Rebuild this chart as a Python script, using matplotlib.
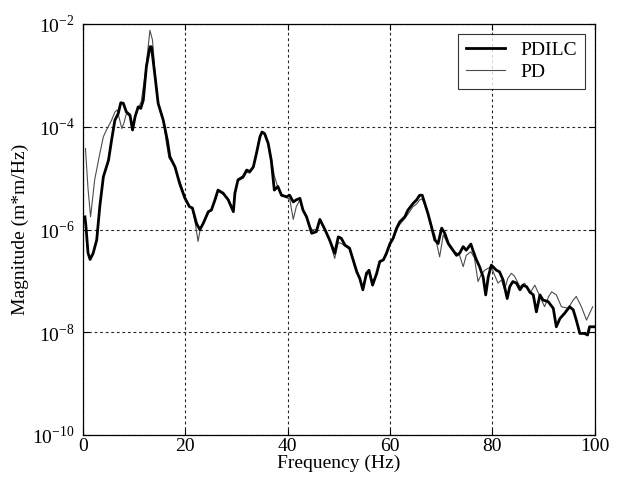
import numpy as np
import matplotlib

matplotlib.use("Agg")
import matplotlib.pyplot as plt
from matplotlib.ticker import FixedLocator

plt.rcParams["font.family"] = ["Liberation Serif", "DejaVu Serif"]
plt.rcParams["mathtext.fontset"] = "custom"
plt.rcParams["mathtext.rm"] = "Liberation Serif"

# ── data: frequency (Hz) and log10 of magnitude (m*m/Hz) ──
pdilc_freq = [0.4, 0.6, 1.0, 1.4, 2.0, 2.7, 3.3, 4.0, 5.0, 5.6, 6.25, 6.9, 7.4, 7.9, 8.5, 9.2,
              9.7, 10.2, 10.8, 11.3, 11.8, 12.4, 13.1, 13.4, 14.1, 14.7, 15.7, 16.5, 17.0, 18.0,
              18.9, 19.9, 20.8, 21.4, 22.2, 22.85, 23.5, 24.5, 25.1, 25.8, 26.4, 27.4, 28.4,
              29.4, 29.7, 30.3, 31.3, 32.0, 32.6, 33.3, 33.9, 34.6, 35.0, 35.5, 36.2, 36.8,
              37.2, 37.4, 38.1, 38.8, 39.8, 40.4, 41.1, 41.7, 42.4, 43.0, 43.7, 44.7, 45.6,
              46.3, 47.3, 48.2, 49.2, 49.9, 50.5, 51.2, 52.1, 52.8, 53.5, 54.1, 54.7, 55.4,
              55.9, 56.6, 57.4, 58.0, 58.7, 59.3, 60.0, 60.6, 61.3, 61.9, 62.9, 63.5, 64.5,
              65.2, 65.8, 66.3, 66.8, 67.4, 68.1, 68.75, 69.4, 70.1, 70.7, 71.4, 72.3, 73.0,
              73.6, 74.3, 74.9, 75.8, 76.2, 76.9, 77.5, 78.2, 78.7, 79.2, 79.8, 80.8, 81.4,
              82.1, 82.9, 83.4, 84.0, 84.7, 85.4, 86.0, 86.7, 87.3, 88.0, 88.6, 89.3, 89.9,
              90.9, 91.9, 92.5, 93.2, 94.1, 95.1, 95.8, 96.4, 97.1, 98.0, 98.6, 99.0, 100.0]
pdilc_logmag = [-5.75, -5.94, -6.45, -6.58, -6.46, -6.20, -5.55, -4.97, -4.65, -4.26, -3.87,
                -3.74, -3.53, -3.54, -3.71, -3.77, -4.06, -3.80, -3.61, -3.64, -3.48, -2.83,
                -2.44, -2.44, -3.02, -3.54, -3.87, -4.26, -4.58, -4.78, -5.10, -5.38, -5.55,
                -5.58, -5.88, -6.00, -5.88, -5.65, -5.62, -5.42, -5.23, -5.29, -5.42, -5.65,
                -5.29, -5.03, -4.97, -4.84, -4.87, -4.78, -4.52, -4.19, -4.10, -4.13, -4.32,
                -4.65, -5.03, -5.23, -5.16, -5.33, -5.36, -5.33, -5.46, -5.42, -5.39, -5.62,
                -5.75, -6.07, -6.04, -5.80, -6.00, -6.20, -6.46, -6.14, -6.17, -6.30, -6.36,
                -6.59, -6.82, -6.95, -7.17, -6.85, -6.79, -7.08, -6.85, -6.62, -6.59, -6.46,
                -6.27, -6.17, -5.97, -5.85, -5.75, -5.62, -5.49, -5.42, -5.33, -5.33, -5.49,
                -5.68, -5.94, -6.20, -6.27, -5.97, -6.07, -6.27, -6.40, -6.50, -6.46, -6.33,
                -6.40, -6.28, -6.40, -6.59, -6.72, -6.92, -7.27, -6.92, -6.69, -6.79, -6.82,
                -6.98, -7.34, -7.11, -7.01, -7.04, -7.17, -7.08, -7.11, -7.21, -7.27, -7.60,
                -7.27, -7.37, -7.40, -7.53, -7.89, -7.73, -7.63, -7.50, -7.56, -7.76, -8.02,
                -8.02, -8.05, -7.89, -7.89]

pd_freq = [0.5, 1.0, 1.5, 2.3, 3.3, 4.0, 4.6, 5.6, 6.25, 6.7, 7.2, 7.6, 8.0, 8.5, 9.2, 9.7,
           10.2, 10.8, 11.4, 12.2, 12.8, 13.1, 13.6, 14.1, 14.7, 15.7, 16.3, 16.8, 17.5, 18.0,
           18.9, 19.9, 20.8, 21.4, 22.0, 22.5, 23.0, 23.5, 24.5, 25.1, 25.8, 26.4, 27.4, 28.4,
           29.4, 29.7, 30.3, 31.3, 32.0, 32.6, 33.3, 33.9, 34.6, 35.0, 35.5, 36.2, 36.8, 37.4,
           38.1, 38.8, 39.8, 40.4, 41.1, 41.7, 42.4, 43.0, 43.7, 44.7, 45.6, 46.3, 47.3, 48.2,
           49.2, 49.9, 50.5, 51.2, 52.1, 52.8, 53.5, 54.1, 54.7, 55.4, 55.9, 56.6, 57.4, 58.0,
           58.7, 59.3, 60.0, 60.6, 61.3, 61.9, 62.9, 63.5, 64.5, 65.2, 65.8, 66.3, 66.8, 67.4,
           68.1, 68.75, 69.7, 70.4, 71.4, 72.3, 73.0, 73.6, 74.3, 74.9, 75.8, 76.5, 77.2, 77.8,
           78.5, 79.2, 79.8, 80.5, 81.1, 81.8, 82.4, 83.0, 83.7, 84.3, 85.4, 86.3, 87.3, 88.3,
           89.3, 90.2, 91.0, 91.6, 92.5, 93.5, 94.8, 95.8, 96.4, 97.4, 98.4, 99.0, 99.6]
pd_logmag = [-4.42, -5.20, -5.75, -5.03, -4.52, -4.19, -4.06, -3.87, -3.71, -3.67, -3.87, -4.03,
             -3.93, -3.74, -3.80, -4.03, -3.82, -3.64, -3.51, -2.95, -2.40, -2.12, -2.31, -2.95,
             -3.55, -3.85, -4.30, -4.60, -4.70, -4.80, -5.05, -5.35, -5.55, -5.60, -5.90, -6.23,
             -5.95, -5.90, -5.68, -5.60, -5.45, -5.25, -5.31, -5.40, -5.62, -5.32, -5.05, -5.00,
             -4.88, -4.90, -4.80, -4.50, -4.17, -4.10, -4.15, -4.30, -4.60, -4.95, -5.18, -5.30,
             -5.38, -5.40, -5.80, -5.55, -5.42, -5.60, -5.78, -6.00, -6.00, -5.82, -6.02, -6.22,
             -6.56, -6.25, -6.27, -6.32, -6.38, -6.55, -6.78, -6.97, -7.10, -6.90, -6.82, -7.00,
             -6.88, -6.65, -6.58, -6.50, -6.30, -6.20, -6.00, -5.90, -5.78, -5.70, -5.55, -5.50,
             -5.42, -5.40, -5.52, -5.70, -5.98, -6.10, -6.53, -6.10, -6.30, -6.42, -6.45, -6.50,
             -6.72, -6.50, -6.43, -6.55, -7.01, -6.88, -6.79, -6.75, -6.72, -6.90, -7.04, -6.98,
             -7.17, -6.95, -6.85, -6.90, -7.11, -7.04, -7.24, -7.08, -7.30, -7.50, -7.30, -7.21,
             -7.27, -7.50, -7.53, -7.37, -7.30, -7.50, -7.76, -7.63, -7.50]

x_ticks = [0, 20, 40, 60, 80, 100]
y_exponents = [-10, -8, -6, -4, -2]


def main():
    fig = plt.figure(figsize=(6.28, 4.83), dpi=100)
    ax = fig.add_axes([0.132, 0.099, 0.815, 0.851])

    ax.plot(pdilc_freq, 10.0 ** np.array(pdilc_logmag), color="black", lw=2.0,
            label="PDILC", zorder=3)
    ax.plot(pd_freq, 10.0 ** np.array(pd_logmag), color="0.3", lw=0.8,
            label="PD", zorder=2)

    ax.set_yscale("log")
    ax.set_xlim(0, 100)
    ax.set_ylim(1e-10, 1e-2)
    ax.set_xticks(x_ticks)
    ax.yaxis.set_major_locator(FixedLocator([10.0 ** e for e in y_exponents]))
    ax.yaxis.set_minor_locator(FixedLocator([]))
    ax.set_yticklabels([r"$10^{%d}$" % e for e in y_exponents])

    ax.grid(True, color="0.15", linestyle=(0, (2.5, 2.5)), linewidth=0.8)
    ax.tick_params(direction="in", top=True, right=True, length=4, labelsize=14)
    ax.tick_params(axis="x", pad=2)
    ax.tick_params(axis="y", pad=6)
    for s in ax.spines.values():
        s.set_linewidth(0.9)

    ax.set_xlabel("Frequency (Hz)", fontsize=14, labelpad=0)
    ax.set_ylabel("Magnitude (m*m/Hz)", fontsize=14, labelpad=2)

    leg = ax.legend(loc="upper right", fontsize=14, frameon=True, fancybox=False,
                    edgecolor="black", handlelength=2.0, borderaxespad=0.5,
                    labelspacing=0.2)
    leg.get_frame().set_linewidth(0.8)

    fig.savefig("out.png", dpi=100)
    plt.close(fig)


if __name__ == "__main__":
    main()
